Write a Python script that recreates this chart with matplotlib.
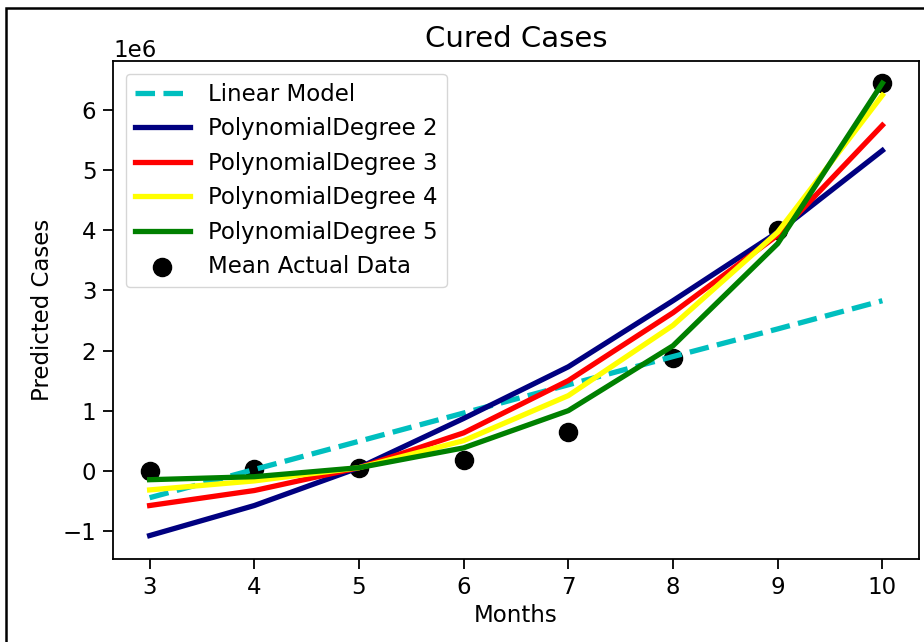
import matplotlib
matplotlib.use("Agg")
import matplotlib.pyplot as plt
from matplotlib.patches import Rectangle

# months on the x axis
months = [3, 4, 5, 6, 7, 8, 9, 10]

# values, in millions (axis shows 1e6 offset)
linear_model = [-0.45, 0.02, 0.49, 0.96, 1.43, 1.90, 2.36, 2.83]
poly_deg2 = [-1.08, -0.58, 0.05, 0.87, 1.73, 2.83, 3.97, 5.33]
poly_deg3 = [-0.58, -0.33, 0.05, 0.63, 1.50, 2.63, 3.92, 5.75]
poly_deg4 = [-0.32, -0.17, 0.05, 0.50, 1.25, 2.42, 3.97, 6.25]
poly_deg5 = [-0.15, -0.10, 0.05, 0.38, 1.00, 2.08, 3.78, 6.45]
mean_actual = [0.00, 0.03, 0.05, 0.18, 0.65, 1.88, 4.00, 6.45]

SCALE = 1e6
FS = 16.5
LW = 3.8

fig = plt.figure(figsize=(9.24, 6.42), dpi=100)
ax = fig.add_axes([113 / 924, 1 - 559 / 642, (919 - 113) / 924, (559 - 61) / 642])

ax.plot(months, [v * SCALE for v in linear_model], "--", color="c", lw=LW, label="Linear Model")
ax.plot(months, [v * SCALE for v in poly_deg2], color="navy", lw=LW, label="PolynomialDegree 2")
ax.plot(months, [v * SCALE for v in poly_deg3], color="red", lw=LW, label="PolynomialDegree 3")
ax.plot(months, [v * SCALE for v in poly_deg4], color="yellow", lw=LW, label="PolynomialDegree 4")
ax.plot(months, [v * SCALE for v in poly_deg5], color="green", lw=LW, label="PolynomialDegree 5")
ax.scatter(months, [v * SCALE for v in mean_actual], color="black", s=170, label="Mean Actual Data")

ax.set_xlim(2.65, 10.35)
ax.set_ylim(-1.47 * SCALE, 6.82 * SCALE)
ax.set_title("Cured Cases", fontsize=21, pad=10)
ax.set_xlabel("Months", fontsize=FS, labelpad=4)
ax.set_ylabel("Predicted Cases", fontsize=FS, labelpad=6)
ax.tick_params(labelsize=FS, length=7, width=1.3, pad=5)
ax.yaxis.get_offset_text().set_fontsize(FS)
for s in ax.spines.values():
    s.set_linewidth(1.3)

ax.legend(loc="upper left", fontsize=FS, handlelength=2.4, borderaxespad=0.55)

# frame around the whole screenshot
fig.patches.append(Rectangle((6 / 924, -0.05), 1.0, 1 - 8 / 642 + 0.05,
                             transform=fig.transFigure, fill=False,
                             edgecolor="black", lw=1.8))

fig.savefig("out.png", dpi=100)
